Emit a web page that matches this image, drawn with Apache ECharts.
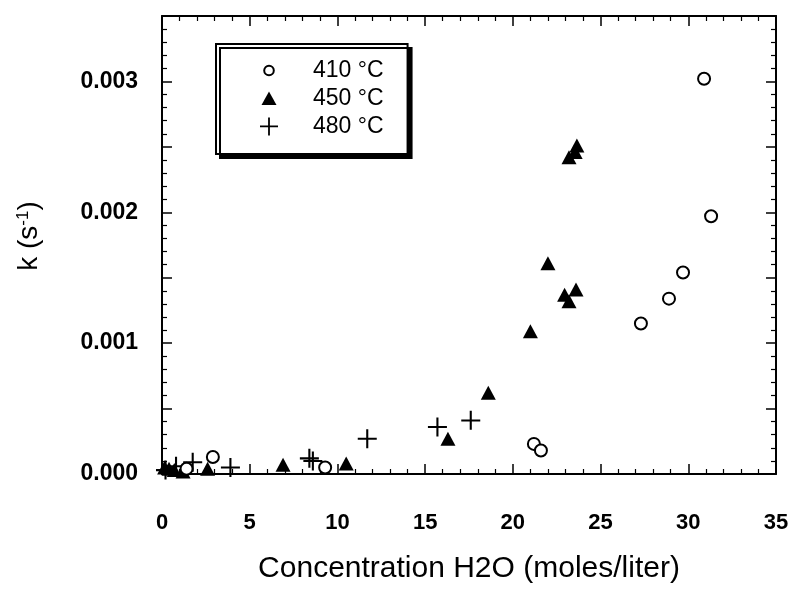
<!DOCTYPE html>
<html>
<head>
<meta charset="utf-8">
<script src="https://cdn.jsdelivr.net/npm/echarts@6/dist/echarts.min.js"></script>
<style>
html,body{margin:0;padding:0;background:#fff;}
#chart{width:792px;height:589px;}
</style>
</head>
<body>
<div id="chart"></div>
<script>
// Data: [concentration H2O (mol/L), k (1/s)]
var series410 = [[1.4,0.00004],[2.9,0.00013],[9.3,0.00005],[21.2,0.00023],[21.6,0.00018],
  [27.3,0.00115],[28.9,0.00134],[29.7,0.00154],[30.9,0.00302],[31.3,0.00197]];
var series450 = [[0.15,0.00005],[0.4,0.00004],[0.7,0.00003],[1.2,0.00002],[2.6,0.00004],
  [6.9,0.00007],[10.5,0.00008],[16.3,0.00027],[18.6,0.00062],[21.0,0.00109],[22.0,0.00161],
  [22.95,0.00137],[23.2,0.00132],[23.6,0.00141],[23.2,0.00242],[23.55,0.00246],[23.65,0.00251]];
var series480 = [[0.2,0.00003],[0.8,0.00006],[1.75,0.00009],[3.9,0.00005],[8.4,0.00012],
  [8.6,0.0001],[11.7,0.00027],[15.7,0.00036],[17.6,0.00041]];
var seriesNames = ['410 °C','450 °C','480 °C'];
var xTicks = {min:0,max:35,interval:5};
var yTicks = {min:0,max:0.0035,interval:0.0005};

var plusPath = 'path://M0,9h20v2.2h-20z M8.9,0h2.2v20h-2.2z';
var legendCircle = 'path://M0,0M18,18M9,4.2a4.8,4.8 0 1,0 0.01,0z';
var legendTri = 'path://M0,0M18,18M9,2L16.5,15.5H1.5z';
var legendPlus = 'path://M0,8h18v1.8h-18z M8.1,0h1.8v18h-1.8z';

var chart = echarts.init(document.getElementById('chart'));
function axisCommon(){
  return {
    axisLine:{show:true,onZero:false,lineStyle:{color:'#000',width:2}},
    axisTick:{show:true,inside:true,length:10,lineStyle:{color:'#000',width:1.5}},
    minorTick:{show:true,splitNumber:5,length:5,lineStyle:{color:'#000',width:1.2}},
    splitLine:{show:false}
  };
}
var font = 'Liberation Sans, Arial, Helvetica, sans-serif';
chart.setOption({
  animation:false,
  backgroundColor:'#fff',
  grid:{left:162,right:16,top:16,bottom:115},
  legend:{
    orient:'vertical', left:216, top:44,
    padding:[15,24,16,43], itemGap:5, itemWidth:18, itemHeight:18,
    backgroundColor:'#fff', borderColor:'#000', borderWidth:2,
    shadowColor:'#000', shadowBlur:0, shadowOffsetX:4, shadowOffsetY:4,
    textStyle:{fontFamily:font,fontSize:23,color:'#000',padding:[0,0,0,30]},
    data:[
      {name:seriesNames[0],icon:legendCircle,itemStyle:{color:'#fff',borderColor:'#000',borderWidth:2}},
      {name:seriesNames[1],icon:legendTri,itemStyle:{color:'#000',borderWidth:0}},
      {name:seriesNames[2],icon:legendPlus,itemStyle:{color:'#000',borderWidth:0}}
    ]
  },
  xAxis:[
    Object.assign({type:'value',position:'bottom',min:xTicks.min,max:xTicks.max,interval:xTicks.interval,
      name:'Concentration H2O (moles/liter)',nameLocation:'middle',nameGap:80,
      nameTextStyle:{fontFamily:font,fontSize:30,color:'#000'},
      axisLabel:{fontFamily:font,fontSize:22,fontWeight:'bold',color:'#000',margin:38}},axisCommon()),
    Object.assign({type:'value',position:'top',min:xTicks.min,max:xTicks.max,interval:xTicks.interval,
      axisLabel:{show:false}},axisCommon())
  ],
  yAxis:[
    Object.assign({type:'value',position:'left',min:yTicks.min,max:yTicks.max,interval:yTicks.interval,
      name:'{a|k (s}{b|-1}{a|)}',nameLocation:'middle',nameGap:118,nameRotate:90,
      nameTextStyle:{padding:[0,0,0,18],rich:{
        a:{fontFamily:font,fontSize:28,color:'#000'},
        b:{fontFamily:font,fontSize:17,color:'#000',padding:[0,0,12,0]}
      }},
      axisLabel:{fontFamily:font,fontSize:23,fontWeight:'bold',color:'#000',margin:24,
        formatter:function(v){var n=Math.round(v*10000);return n%10===0?v.toFixed(3):'';}}},axisCommon()),
    Object.assign({type:'value',position:'right',min:yTicks.min,max:yTicks.max,interval:yTicks.interval,
      axisLabel:{show:false}},axisCommon())
  ],
  series:[
    {name:seriesNames[0],type:'scatter',data:series410,symbol:'circle',symbolSize:12,
      itemStyle:{color:'#fff',borderColor:'#000',borderWidth:2,opacity:1},z:3},
    {name:seriesNames[1],type:'scatter',data:series450,symbol:'triangle',symbolSize:[15,14],
      itemStyle:{color:'#000',opacity:1},z:2},
    {name:seriesNames[2],type:'scatter',data:series480,symbol:plusPath,symbolSize:19,
      itemStyle:{color:'#000',opacity:1},z:2}
  ]
});
</script>
</body>
</html>
